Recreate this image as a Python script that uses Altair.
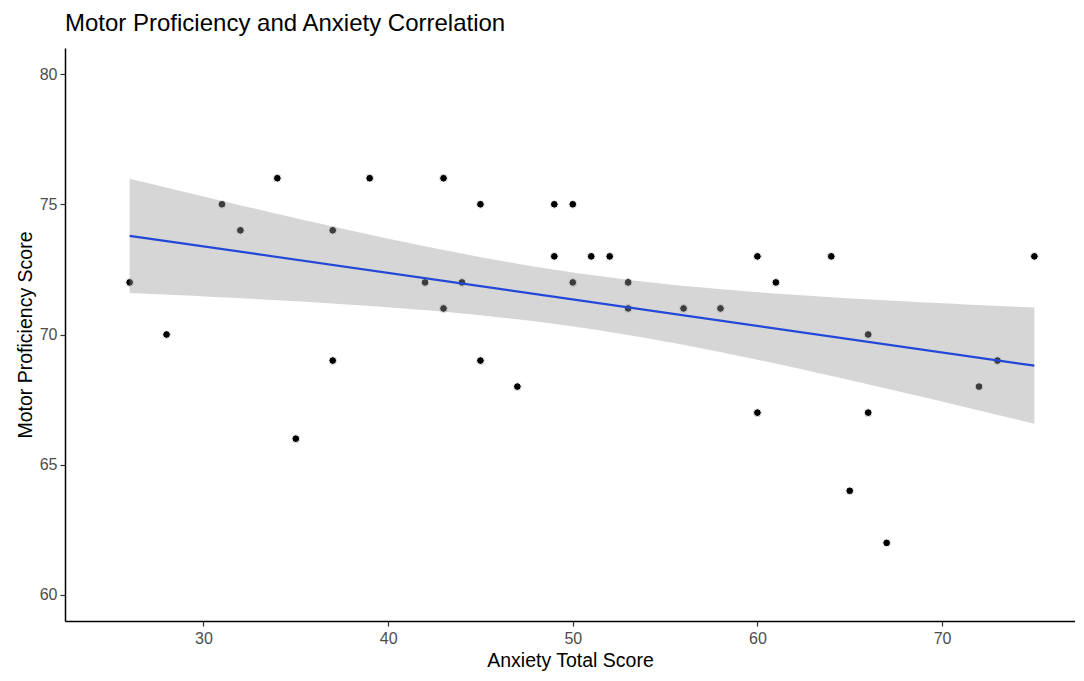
import altair as alt
import numpy as np
import pandas as pd

# Data
anxiety = [26, 28, 31, 32, 34, 35, 37, 37, 39, 42, 43, 43, 44, 45, 45, 47, 49, 49,
           50, 50, 51, 52, 53, 53, 56, 58, 60, 60, 61, 64, 65, 66, 66, 67, 72, 73, 75]
motor = [72, 70, 75, 74, 76, 66, 74, 69, 76, 72, 76, 71, 72, 75, 69, 68, 75, 73,
         75, 72, 73, 73, 72, 71, 71, 71, 73, 67, 72, 73, 64, 70, 67, 62, 68, 69, 73]
x_ticks = [30, 40, 50, 60, 70]
y_ticks = [60, 65, 70, 75, 80]

df = pd.DataFrame({"x": anxiety, "y": motor})

# 95% confidence band of the linear fit (as geom_smooth(method="lm") does)
xa = np.array(anxiety, dtype=float)
ya = np.array(motor, dtype=float)
n = len(xa)
b, a = np.polyfit(xa, ya, 1)
resid = ya - (a + b * xa)
s = np.sqrt((resid ** 2).sum() / (n - 2))
sxx = ((xa - xa.mean()) ** 2).sum()
T975 = 2.030  # t quantile, df = 35
grid = np.linspace(xa.min(), xa.max(), 80)
fit = a + b * grid
se = s * np.sqrt(1.0 / n + (grid - xa.mean()) ** 2 / sxx)
band = pd.DataFrame({"x": grid, "lo": fit - T975 * se, "hi": fit + T975 * se})

xs = alt.Scale(domain=[22.5, 77.2], nice=False, zero=False)
ys = alt.Scale(domain=[59, 81], nice=False, zero=False)

FONT = "Liberation Sans"

x_axis = alt.Axis(values=x_ticks, title="Anxiety Total Score", grid=False,
                  domainColor="black", domainWidth=1.5, tickColor="#333333",
                  tickSize=5, tickWidth=1.2, labelColor="#4D4D4D", labelFontSize=16,
                  labelFont=FONT, labelPadding=4, titleFont=FONT, titleFontSize=19.5,
                  titleFontWeight="normal", titleColor="black", titlePadding=5)
y_axis = alt.Axis(values=y_ticks, title="Motor Proficiency Score", grid=False,
                  domainColor="black", domainWidth=1.5, tickColor="#333333",
                  tickSize=5, tickWidth=1.2, labelColor="#4D4D4D", labelFontSize=16,
                  labelFont=FONT, labelPadding=3, titleFont=FONT, titleFontSize=19.5,
                  titleFontWeight="normal", titleColor="black", titlePadding=4)

points = alt.Chart(df).mark_circle(size=60, color="black", opacity=1,
                                   stroke="white", strokeWidth=1).encode(
    x=alt.X("x:Q", scale=xs, axis=x_axis),
    y=alt.Y("y:Q", scale=ys, axis=y_axis),
)

ribbon = alt.Chart(band).mark_area(color="#999999", opacity=0.4).encode(
    x=alt.X("x:Q", scale=xs),
    y=alt.Y("lo:Q", scale=ys),
    y2="hi:Q",
)

line = alt.Chart(df).transform_regression("x", "y").mark_line(
    color="#2347d6", strokeWidth=2.2).encode(
    x=alt.X("x:Q", scale=xs),
    y=alt.Y("y:Q", scale=ys),
)

chart = alt.layer(points, ribbon, line).properties(
    width=1010,
    height=573,
    title=alt.TitleParams("Motor Proficiency and Anxiety Correlation", anchor="start",
                          frame="group", font=FONT, fontSize=24, fontWeight="normal",
                          color="black", offset=12),
    autosize=alt.AutoSizeParams(type="none"),
    padding={"left": 57, "top": 40, "right": 0, "bottom": 50},
).configure(background="white").configure_view(strokeWidth=0, strokeOpacity=0)

chart.save("out.html", embed_options={"renderer": "svg", "actions": False})
